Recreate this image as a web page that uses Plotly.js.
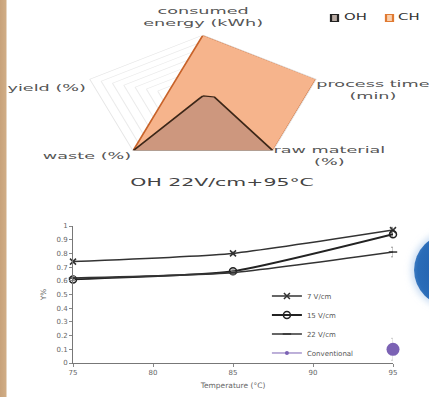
<!DOCTYPE html>
<html><head><meta charset="utf-8">
<script src="https://cdn.plot.ly/plotly-3.0.1.min.js"></script>
<style>
html,body{margin:0;padding:0;width:429px;height:397px;overflow:hidden;}
body{background:linear-gradient(to right,#c8a27a 0,#d0ad86 6px,#fff 7px,#fff 100%);position:relative;font-family:"DejaVu Sans";}
#line{position:absolute;left:0;top:0;width:429px;height:397px;}
#radar{position:absolute;left:0;top:0;width:231px;height:200px;transform:scaleX(1.86);transform-origin:0 0;}
#orb{position:absolute;left:414px;top:234px;width:72px;height:72px;border-radius:50%;
background:radial-gradient(circle at 60% 50%,#1d58a4 0%,#2a6cb8 70%,#7aa8dc 100%);box-shadow:0 0 6px 3px rgba(170,200,235,0.6);}
</style></head>
<body>
<div id="line"></div>
<div id="orb"></div>
<div id="radar"></div>
<script>
// ---- radar data ----
const radarAxes = ["consumed energy (kWh)", "process time (min)", "raw material (%)", "waste (%)", "yield (%)"];
const ohValues = [0.05, 0.10, 1.0, 1.0, 0.03];
const chValues = [1.0, 1.0, 1.0, 1.0, 0.31];
const radarSeriesNames = ["OH", "CH"];
const radarTitle = "OH 22V/cm+95°C";

// ---- line chart data ----
const temperatures = [75, 85, 95];
const v7 = [0.74, 0.80, 0.97];
const v15 = [0.61, 0.67, 0.94];
const v22 = [0.62, 0.66, 0.81];
const v7err = [0.01, 0.01, 0.02];
const v15err = [0.01, 0.015, 0.02];
const v22err = [0.01, 0.01, 0.035];
const convT = [95];
const convV = [0.10];
const convErr = [0.08];
const seriesNames = ["7 V/cm", "15 V/cm", "22 V/cm", "Conventional"];
const xTicks = [75, 80, 85, 90, 95];
const yTicks = [0, 0.1, 0.2, 0.3, 0.4, 0.5, 0.6, 0.7, 0.8, 0.9, 1];
const yTickText = ["0", "0.1", "0.2", "0.3", "0.4", "0.5", "0.6", "0.7", "0.8", "0.9", "1"];
const xTitle = "Temperature (°C)";
const yTitle = "Y%";

const FONT = "DejaVu Sans";

// ---------- line chart ----------
function errBar(arr, col) {
  return {type: 'data', array: arr, visible: true, color: col || '#999', thickness: 1, width: 2};
}
const lineTraces = [
  {x: temperatures, y: v7, name: seriesNames[0], mode: 'lines+markers', cliponaxis: false,
   line: {color: '#333', width: 1.5, shape: 'spline', smoothing: 0.5},
   marker: {symbol: 'x-thin-open', size: 6, color: '#333', line: {color: '#333', width: 1.5}},
   error_y: errBar(v7err)},
  {x: temperatures, y: v15, name: seriesNames[1], mode: 'lines+markers', cliponaxis: false,
   line: {color: '#222', width: 1.8, shape: 'spline', smoothing: 0.5},
   marker: {symbol: 'circle-open', size: 7, color: '#222', line: {color: '#222', width: 1.5}},
   error_y: errBar(v15err)},
  {x: temperatures, y: v22, name: seriesNames[2], mode: 'lines+markers', cliponaxis: false,
   line: {color: '#333', width: 1.6, shape: 'spline', smoothing: 0.5},
   marker: {symbol: 'line-ew-open', size: 6, color: '#333', line: {color: '#333', width: 1.5}},
   error_y: errBar(v22err)},
  {x: convT, y: convV, name: seriesNames[3], mode: 'lines+markers', cliponaxis: false,
   line: {color: '#7b62b4', width: 1},
   marker: {symbol: 'circle', size: 4, color: '#7b62b4'}},
  {x: convT, y: convV, name: seriesNames[3], mode: 'markers', cliponaxis: false, showlegend: false,
   marker: {symbol: 'circle', size: 13, color: '#7b62b4'},
   error_y: errBar(convErr, '#ccc')}
];
const axFont = {family: FONT, size: 7, color: '#666'};
const lineLayout = {
  width: 429, height: 397,
  margin: {l: 73, r: 36, t: 226, b: 34, pad: 0},
  paper_bgcolor: 'rgba(0,0,0,0)', plot_bgcolor: 'rgba(0,0,0,0)',
  font: {family: FONT},
  xaxis: {range: [75, 95], tickvals: xTicks, ticktext: xTicks.map(String),
    showline: true, linecolor: '#777', linewidth: 1, ticks: 'outside', ticklen: 3, tickcolor: '#888',
    showgrid: false, zeroline: false, tickfont: axFont,
    title: {text: xTitle, font: {family: FONT, size: 7.5, color: '#666'}, standoff: 6}},
  yaxis: {range: [0, 1], tickvals: yTicks, ticktext: yTickText,
    showline: true, linecolor: '#777', linewidth: 1, ticks: 'outside', ticklen: 3, tickcolor: '#888',
    showgrid: false, zeroline: false, tickfont: axFont,
    title: {text: yTitle, font: {family: FONT, size: 7.5, color: '#666'}, standoff: 8}},
  showlegend: true,
  legend: {x: 0.606, y: 0.595, xanchor: 'left', yanchor: 'top', bgcolor: 'rgba(0,0,0,0)',
    font: {family: FONT, size: 7, color: '#555'}, tracegroupgap: 0}
};
Plotly.newPlot('line', lineTraces, lineLayout, {staticPlot: true, displayModeBar: false});

// ---------- radar (drawn in a horizontally stretched panel) ----------
const SX = 1.86, TW = 231, TH = 200;
function px(X) { return X / SX / TW; }
function py(Y) { return 1 - Y / TH; }
function closeLoop(a) { return a.concat([a[0]]); }

const radarTraces = [
  {type: 'scatterpolar', name: radarSeriesNames[1], r: closeLoop(chValues), theta: closeLoop(radarAxes),
   mode: 'lines', fill: 'toself', fillcolor: '#f6b48c', line: {color: '#c8632a', width: 1}},
  {type: 'scatterpolar', name: radarSeriesNames[0], r: closeLoop(ohValues), theta: closeLoop(radarAxes),
   mode: 'lines', fill: 'toself', fillcolor: '#cd977e', line: {color: '#3d2718', width: 1.2}}
];
const cx = 203 / SX, cy = 99, R = 64;
const lblFont = {family: FONT, size: 9.5, color: '#555'};
const radarLayout = {
  width: TW, height: TH, margin: {l: 0, r: 0, t: 0, b: 0, pad: 0},
  paper_bgcolor: 'rgba(0,0,0,0)', showlegend: false,
  polar: {
    domain: {x: [(cx - R) / TW, (cx + R) / TW], y: [(TH - cy - R) / TH, (TH - cy + R) / TH]},
    bgcolor: 'rgba(0,0,0,0)', gridshape: 'linear',
    radialaxis: {range: [0, 1], tickvals: yTicks, showticklabels: false, ticks: '', showline: false,
      gridcolor: '#ebebeb', gridwidth: 0.6},
    angularaxis: {direction: 'clockwise', rotation: 90, showticklabels: false, ticks: '',
      showline: true, linecolor: '#e6e6e6', linewidth: 0.6, showgrid: false}
  },
  annotations: [
    {text: 'consumed<br>energy (kWh)', x: px(203), y: py(17)},
    {text: 'process time<br>(min)', x: px(372), y: py(89)},
    {text: 'raw material<br>(%)', x: px(330), y: py(155)},
    {text: 'waste (%)', x: px(88), y: py(155)},
    {text: 'yield (%)', x: px(47), y: py(88)},
    {text: radarTitle, x: px(222), y: py(182), font: {family: FONT, size: 11, color: '#444'}},
    {text: radarSeriesNames[0], x: px(340), y: py(18), xanchor: 'left', font: {family: FONT, size: 8, color: '#333'}},
    {text: radarSeriesNames[1], x: px(395), y: py(18), xanchor: 'left', font: {family: FONT, size: 8, color: '#333'}}
  ].map(a => Object.assign({xref: 'paper', yref: 'paper', showarrow: false, xanchor: 'center', yanchor: 'middle',
    font: lblFont, align: 'center'}, a)),
  shapes: [
    {type: 'rect', xref: 'paper', yref: 'paper', x0: px(331), x1: px(338), y0: py(21.5), y1: py(14.5),
     fillcolor: '#b8aaa2', line: {color: '#222', width: 1.2}},
    {type: 'rect', xref: 'paper', yref: 'paper', x0: px(386), x1: px(393), y0: py(21.5), y1: py(14.5),
     fillcolor: '#fad0ad', line: {color: '#e07a32', width: 1.2}}
  ]
};
Plotly.newPlot('radar', radarTraces, radarLayout, {staticPlot: true, displayModeBar: false});
</script>
</body></html>
